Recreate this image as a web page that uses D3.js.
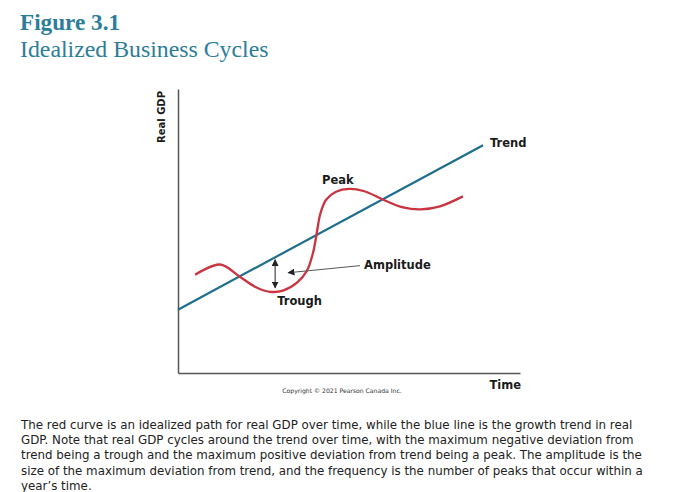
<!DOCTYPE html>
<html><head><meta charset="utf-8">
<script src="https://cdn.jsdelivr.net/npm/d3@7"></script>
<style>html,body{margin:0;padding:0;background:#fff;}svg{display:block;}</style>
</head><body>
<svg id="chart" width="700" height="492"></svg>
<script>
// ---- data (time, real GDP in arbitrary index units) ----
const trendTime = [0, 89.2];
const trendGDP  = [22.3, 80.2];
const cycleTime = [5.0, 12.3, 18.1, 22.5, 26.9, 30.7, 34.8, 37.7, 39.5, 40.6, 41.6, 43.3, 46.2, 50.0, 54.5, 59.9, 65.8, 70.8, 76.6, 83.3];
const cycleGDP  = [34.6, 38.2, 33.9, 30.4, 28.6, 29.0, 31.8, 36.0, 42.4, 49.5, 56.0, 61.0, 63.8, 64.8, 64.0, 61.1, 58.3, 57.6, 58.7, 62.2];
const amplitudeTime = [28.4, 28.4];
const amplitudeGDP  = [39.9, 30.0];
const pointerTime = [53.2, 32.2];
const pointerGDP  = [37.8, 35.3];
const labels = ["Trend", "Peak", "Trough", "Amplitude"];
const labelTime = [91.2, 42.1, 29.0, 54.4];
const labelGDP  = [79.5, 66.4, 24.0, 36.7];
const titleLines = ["Figure 3.1", "Idealized Business Cycles"];
const yTitle = "Real GDP";
const xTitle = "Time";
const copyright = "Copyright \u00A9 2021 Pearson Canada Inc.";
const caption = [
 "The red curve is an idealized path for real GDP over time, while the blue line is the growth trend in real",
 "GDP. Note that real GDP cycles around the trend over time, with the maximum negative deviation from",
 "trend being a trough and the maximum positive deviation from trend being a peak. The amplitude is the",
 "size of the maximum deviation from trend, and the frequency is the number of peaks that occur within a",
 "year\u2019s time."
];

const svg = d3.select("#chart");
const x = d3.scaleLinear().domain([0, 100]).range([178, 520]);
const y = d3.scaleLinear().domain([0, 100]).range([373, 89]);

// title
const teal = "#2c7d9a";
svg.append("text").attr("x", 20).attr("y", 30)
  .attr("font-family", "'Liberation Serif', serif").attr("font-weight", "bold")
  .attr("font-size", 23.2).attr("fill", teal).text(titleLines[0]);
svg.append("text").attr("x", 20).attr("y", 57)
  .attr("font-family", "'Liberation Serif', serif")
  .attr("font-size", 23.8).attr("fill", teal).text(titleLines[1]);

// markers
const defs = svg.append("defs");
defs.append("marker").attr("id", "ah").attr("viewBox", "0 0 10 10")
  .attr("refX", 9).attr("refY", 5).attr("markerWidth", 7).attr("markerHeight", 7)
  .attr("markerUnits", "userSpaceOnUse").attr("orient", "auto-start-reverse")
  .append("path").attr("d", "M0,0 L10,5 L0,10 Z").attr("fill", "#222");

// axes (frame lines)
const axisG = svg.append("g");
const yAxis = d3.axisLeft(y).tickValues([]).tickSizeOuter(0);
const xAxis = d3.axisBottom(x).tickValues([]).tickSizeOuter(0);
axisG.append("g").attr("transform", `translate(${x(0)},0)`).call(yAxis)
  .call(g => g.select(".domain").attr("stroke", "#555").attr("stroke-width", 1.5));
axisG.append("g").attr("transform", `translate(0,${y(0)})`).call(xAxis)
  .call(g => g.select(".domain").attr("stroke", "#555").attr("stroke-width", 1.5));

// trend line
const line = d3.line().x(d => x(d[0])).y(d => y(d[1]));
svg.append("path").datum(d3.zip(trendTime, trendGDP))
  .attr("d", line).attr("fill", "none").attr("stroke", "#1f6e8e").attr("stroke-width", 2.2);

// cycle curve
const curve = d3.line().x(d => x(d[0])).y(d => y(d[1])).curve(d3.curveCatmullRom.alpha(0.5));
svg.append("path").datum(d3.zip(cycleTime, cycleGDP))
  .attr("d", curve).attr("fill", "none").attr("stroke", "#c9343f").attr("stroke-width", 2.3);

// amplitude double arrow
svg.append("path").datum(d3.zip(amplitudeTime, amplitudeGDP)).attr("d", line)
  .attr("stroke", "#222").attr("stroke-width", 1).attr("fill", "none")
  .attr("marker-start", "url(#ah)").attr("marker-end", "url(#ah)");
// pointer
svg.append("path").datum(d3.zip(pointerTime, pointerGDP)).attr("d", line)
  .attr("stroke", "#555").attr("stroke-width", 1).attr("fill", "none")
  .attr("marker-end", "url(#ah)");

// labels
const bold = "'DejaVu Sans', Verdana, sans-serif";
svg.selectAll("text.lbl").data(labels).join("text").attr("class", "lbl")
  .attr("x", (d, i) => x(labelTime[i])).attr("y", (d, i) => y(labelGDP[i]))
  .attr("font-family", bold).attr("font-weight", "bold").attr("font-size", 11.5)
  .attr("fill", "#1a1a1a").text(d => d);

svg.append("text").attr("transform", `translate(165,117) rotate(-90)`)
  .attr("text-anchor", "middle").attr("font-family", bold).attr("font-weight", "bold")
  .attr("font-size", 10).attr("fill", "#1a1a1a").text(yTitle);
svg.append("text").attr("x", 521).attr("y", 389).attr("text-anchor", "end")
  .attr("font-family", bold).attr("font-weight", "bold").attr("font-size", 11.5)
  .attr("fill", "#1a1a1a").text(xTitle);
svg.append("text").attr("x", 342).attr("y", 393).attr("text-anchor", "middle")
  .attr("font-family", bold).attr("font-size", 6.1).attr("fill", "#333").text(copyright);

// caption
const capG = svg.append("g");
const capT = capG.selectAll("text").data(caption).join("text")
  .attr("x", 21).attr("y", (d, i) => 429 + i * 15.2)
  .attr("font-family", bold).attr("font-size", 12).attr("fill", "#222").text(d => d);
const w0 = capT.node().getComputedTextLength();
capT.attr("font-size", 12 * 612 / w0);
</script>
</body></html>
